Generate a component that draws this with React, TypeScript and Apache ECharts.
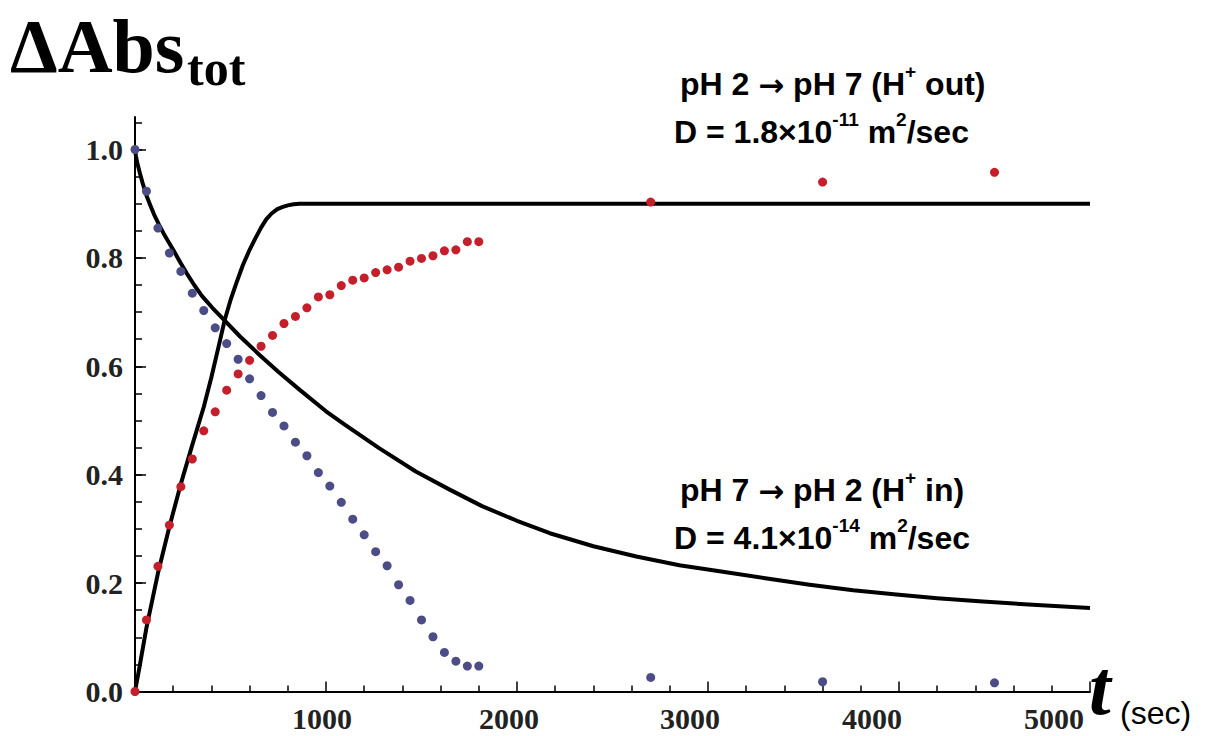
import React, { useEffect, useRef } from "react";
import * as echarts from "echarts";

// measurement times (s)
const times = [
  0, 60, 120, 180, 240, 300, 360, 420, 480, 540, 600, 660, 720, 780, 840, 900,
  960, 1020, 1080, 1140, 1200, 1260, 1320, 1380, 1440, 1500, 1560, 1620, 1680,
  1740, 1800, 2700, 3600, 4500,
];
// pH 2 -> pH 7 (H+ out) measured
const outValues = [
  0, 0.132, 0.231, 0.307, 0.378, 0.429, 0.481, 0.516, 0.556, 0.586, 0.611,
  0.637, 0.657, 0.679, 0.692, 0.708, 0.728, 0.732, 0.749, 0.759, 0.763, 0.773,
  0.778, 0.783, 0.794, 0.799, 0.804, 0.813, 0.815, 0.83, 0.83, 0.903, 0.94,
  0.958,
];
// pH 7 -> pH 2 (H+ in) measured
const inValues = [
  1.0, 0.923, 0.855, 0.809, 0.775, 0.735, 0.703, 0.671, 0.642, 0.613, 0.577,
  0.546, 0.515, 0.49, 0.46, 0.435, 0.404, 0.379, 0.349, 0.318, 0.289, 0.258,
  0.232, 0.197, 0.168, 0.132, 0.101, 0.072, 0.056, 0.047, 0.047, 0.026, 0.018,
  0.016,
];
// model curve, H+ out (D = 1.8e-11)
const modelOutT = [0, 20, 60, 120, 180, 240, 300, 360, 400, 440, 470, 500, 531, 565, 600, 630, 660, 687, 715, 745, 774, 800, 830, 861, 950, 2000, 3000, 4000, 5000];
const modelOutV = [0, 0.038, 0.118, 0.218, 0.304, 0.383, 0.455, 0.525, 0.58, 0.64, 0.686, 0.722, 0.754, 0.787, 0.815, 0.836, 0.856, 0.871, 0.882, 0.89, 0.894, 0.897, 0.899, 0.9, 0.9, 0.9, 0.9, 0.9, 0.9];
// model curve, H+ in (D = 4.1e-14)
const modelInT = [0, 5, 12, 25, 40, 60, 80, 100, 125, 150, 175, 200, 235, 270, 310, 350, 405, 465, 550, 652, 750, 861, 1000, 1100, 1278, 1470, 1650, 1817, 2000, 2172, 2400, 2625, 2850, 3078, 3300, 3532, 3760, 3986, 4200, 4439, 4700, 5000];
const modelInV = [1.0, 0.988, 0.975, 0.957, 0.938, 0.915, 0.897, 0.88, 0.862, 0.845, 0.83, 0.815, 0.793, 0.772, 0.75, 0.73, 0.708, 0.686, 0.655, 0.621, 0.59, 0.557, 0.517, 0.492, 0.449, 0.406, 0.372, 0.342, 0.315, 0.292, 0.268, 0.249, 0.233, 0.221, 0.209, 0.197, 0.187, 0.179, 0.172, 0.166, 0.16, 0.154];

const yMajor = [0, 0.2, 0.4, 0.6, 0.8, 1.0];
const yMinor = [0, 0.05, 0.1, 0.15, 0.2, 0.25, 0.3, 0.35, 0.4, 0.45, 0.5, 0.55, 0.6, 0.65, 0.7, 0.75, 0.8, 0.85, 0.9, 0.95, 1.0, 1.05];
// x tick-label shift to the left (px), as in the reference
const xLabelShift: Record<number, number> = { 1000: 4, 2000: 8, 3000: 18, 4000: 27, 5000: 36 };

const SERIF = "'Times New Roman', 'Liberation Serif', serif";
const SANS = "Arial, 'Liberation Sans', sans-serif";

export default function App() {
  const ref = useRef<HTMLDivElement>(null);
  useEffect(() => {
    if (!ref.current) return;
    const chart = echarts.init(ref.current, null, { renderer: "svg" });
    const pair = (t: number[], v: number[]) => t.map((x, i) => [x, v[i]]);
    const annRich = {
      n: { fontFamily: SANS, fontWeight: "bold", fontSize: 32, lineHeight: 38, color: "#000", verticalAlign: "bottom" },
      a: { fontFamily: "'DejaVu Sans', sans-serif", fontWeight: "bold", fontSize: 31, lineHeight: 38, color: "#000", verticalAlign: "bottom" },
      s: { fontFamily: SANS, fontWeight: "bold", fontSize: 19, lineHeight: 26, color: "#000", verticalAlign: "top" },
    };
    const xLabelRich: Record<string, any> = {};
    Object.keys(xLabelShift).forEach((k) => {
      xLabelRich["l" + k] = {
        fontFamily: SERIF,
        fontWeight: "bold",
        fontSize: 30,
        color: "#222",
        padding: [0, xLabelShift[Number(k)] * 2, 0, 0],
      };
    });
    chart.setOption({
      animation: false,
      backgroundColor: "#fff",
      grid: { left: 135, right: 116, top: 117, bottom: 44.5, containLabel: false },
      xAxis: {
        type: "value",
        min: 0,
        max: 5000,
        interval: 1000,
        axisLine: { show: true, lineStyle: { color: "#000", width: 2 } },
        axisTick: { show: true, inside: true, length: 10, lineStyle: { color: "#000", width: 1.5 } },
        minorTick: { show: true, splitNumber: 5, length: 6, lineStyle: { color: "#000", width: 1.5 } },
        splitLine: { show: false },
        axisLabel: {
          margin: 12,
          fontFamily: SERIF,
          fontWeight: "bold",
          fontSize: 30,
          color: "#222",
          rich: xLabelRich,
          formatter: (v: number) => (v === 0 ? "" : `{l${v}|${v}}`),
        },
      },
      yAxis: [
        {
          type: "value",
          min: 0,
          max: 1.06,
          axisLine: { show: true, lineStyle: { color: "#000", width: 2 } },
          axisTick: { show: true, inside: true, length: 7, customValues: yMinor, lineStyle: { color: "#000", width: 1.5 } },
          splitLine: { show: false },
          axisLabel: {
            margin: 12,
            customValues: yMajor,
            fontFamily: SERIF,
            fontWeight: "bold",
            fontSize: 30,
            color: "#222",
            formatter: (v: number) => v.toFixed(1),
          },
        },
        {
          type: "value",
          min: 0,
          max: 1.06,
          position: "left",
          axisLine: { show: false },
          axisTick: { show: true, inside: true, length: 11, customValues: yMajor, lineStyle: { color: "#000", width: 1.5 } },
          splitLine: { show: false },
          axisLabel: { show: false },
        },
      ],
      series: [
        {
          type: "line",
          data: pair(modelOutT, modelOutV),
          smooth: false,
          showSymbol: false,
          lineStyle: { color: "#000", width: 4, join: "round" },
          z: 2,
        },
        {
          type: "line",
          data: pair(modelInT, modelInV),
          smooth: false,
          showSymbol: false,
          lineStyle: { color: "#000", width: 4, join: "round" },
          z: 2,
        },
        {
          type: "scatter",
          data: pair(times, outValues),
          symbolSize: 9,
          itemStyle: { color: "#c41f2a", opacity: 1 },
          z: 3,
        },
        {
          type: "scatter",
          data: pair(times, inValues),
          symbolSize: 9,
          itemStyle: { color: "#4c4c86", opacity: 1 },
          z: 3,
        },
      ],
      graphic: [
        {
          type: "text",
          left: 10,
          top: 8,
          style: { text: "ΔAbs", font: `bold 76px ${SERIF}`, fill: "#000" },
        },
        {
          type: "text",
          left: 187,
          top: 43,
          style: { text: "tot", font: `bold 50px ${SERIF}`, fill: "#000" },
        },
        {
          type: "text",
          left: 680,
          top: 62,
          style: { text: "{n|pH 2 }{a|→}{n| pH 7 (H}{s|+}{n| out)}", rich: annRich },
        },
        {
          type: "text",
          left: 674,
          top: 110,
          style: { text: "{n|D = 1.8×10}{s|-11}{n| m}{s|2}{n|/sec}", rich: annRich },
        },
        {
          type: "text",
          left: 680,
          top: 468,
          style: { text: "{n|pH 7 }{a|→}{n| pH 2 (H}{s|+}{n| in)}", rich: annRich },
        },
        {
          type: "text",
          left: 674,
          top: 516,
          style: { text: "{n|D = 4.1×10}{s|-14}{n| m}{s|2}{n|/sec}", rich: annRich },
        },
        {
          type: "text",
          left: 1089,
          top: 648,
          style: { text: "t", font: `bold italic 78px ${SERIF}`, fill: "#000" },
        },
        {
          type: "text",
          left: 1120,
          top: 697,
          style: { text: "(sec)", font: `32px ${SANS}`, fill: "#000" },
        },
      ],
    });
    return () => chart.dispose();
  }, []);
  return (
    <div
      ref={ref}
      style={{ position: "fixed", left: 0, top: 0, width: 1206, height: 736, background: "#fff" }}
    />
  );
}
